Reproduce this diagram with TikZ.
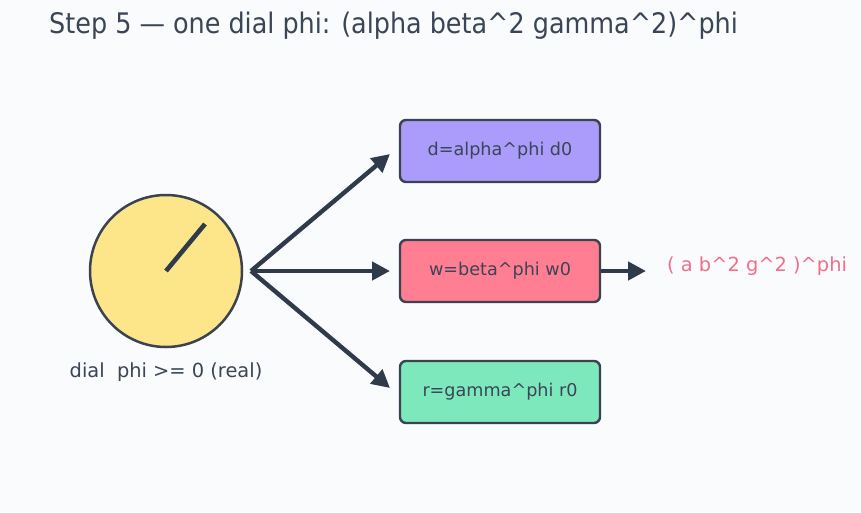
\documentclass[tikz,border=0pt]{standalone}
\usepackage{fontspec}
\setmainfont{DejaVu Sans}
\newfontfamily\titlefont{DejaVu Sans Condensed}
\usetikzlibrary{arrows.meta}
\definecolor{bg}{HTML}{FAFBFD}
\definecolor{ink}{HTML}{2F3A4B}
\definecolor{txt}{HTML}{3A4556}
\definecolor{edge}{HTML}{3B4352}
\definecolor{dialfill}{HTML}{FDE68A}
\definecolor{purp}{HTML}{AB9BFA}
\definecolor{pinkf}{HTML}{FF7E91}
\definecolor{greenf}{HTML}{7EE8BD}
\definecolor{pinktxt}{HTML}{F0708A}
\tikzset{
  valbox/.style={draw=edge, line width=2.4pt, rounded corners=6pt, minimum width=200pt, minimum height=62pt, inner sep=0pt, text=txt, font=\fontsize{17.6pt}{21pt}\selectfont},
  arr/.style={draw=ink, line width=4.4pt, -{Triangle[length=18pt,width=18pt]}, shorten >=0pt},
}
\begin{document}
\begin{tikzpicture}[x=1pt,y=-1pt]
\fill[bg] (0,0) rectangle (861,512);
\useasboundingbox (0,0) rectangle (861,512);
\node[anchor=west, text=txt, font=\titlefont\fontsize{28.3pt}{33pt}\selectfont, inner sep=0pt] (title) at (49,26) {Step 5 — one dial phi: (alpha beta\textasciicircum 2 gamma\textasciicircum 2)\textasciicircum phi};
\node[circle, draw=edge, line width=2.5pt, fill=dialfill, minimum size=152pt, inner sep=0pt] (dial) at (166,271) {};
\coordinate (hub) at (166,271);
\coordinate (tip) at (205,224);
\draw[ink, line width=4.6pt] (hub) -- (tip);
\node[text=txt, font=\fontsize{19.4pt}{23pt}\selectfont] (diallbl) at (166,372) {dial\ \ phi >= 0 (real)};
\node[valbox, fill=purp] (d) at (500,151) {d=alpha\textasciicircum phi d0};
\node[valbox, fill=pinkf] (w) at (500,271) {w=beta\textasciicircum phi w0};
\node[valbox, fill=greenf] (r) at (500,392) {r=gamma\textasciicircum phi r0};
\coordinate (src) at (251,271);
\coordinate (ed) at (390,154);
\coordinate (ew) at (390,271);
\coordinate (er) at (390,388);
\draw[arr] (src) -- (ed);
\draw[arr] (src) -- (ew);
\draw[arr] (src) -- (er);
\coordinate (eo) at (646,271);
\draw[arr] (w.east) -- (eo);
\node[anchor=west, text=pinktxt, font=\fontsize{19.4pt}{23pt}\selectfont, inner sep=0pt] (prod) at (667,266) {( a b\textasciicircum 2 g\textasciicircum 2 )\textasciicircum phi};
\end{tikzpicture}
\end{document}
